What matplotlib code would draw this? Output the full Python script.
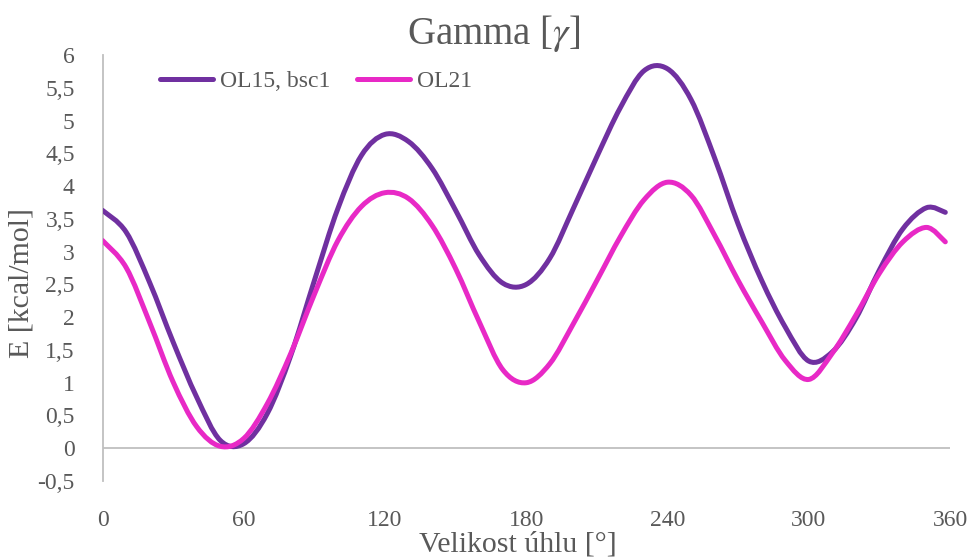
import matplotlib
matplotlib.use("Agg")
import matplotlib.pyplot as plt
from matplotlib.path import Path
from matplotlib.patches import PathPatch
from matplotlib.lines import Line2D
from matplotlib.ticker import FuncFormatter, MultipleLocator

# Data (angle in degrees, energy in kcal/mol)
angles = [0, 10, 20, 30, 40, 50, 60, 70, 80, 90, 100, 110, 120, 130, 140, 150,
          160, 170, 180, 190, 200, 210, 220, 230, 240, 250, 260, 270, 280, 290,
          300, 310, 320, 330, 340, 350, 358]
ol15_bsc1 = [3.63, 3.30, 2.53, 1.62, 0.78, 0.12, 0.07, 0.53, 1.42, 2.56, 3.66,
             4.47, 4.79, 4.68, 4.27, 3.63, 2.95, 2.52, 2.50, 2.90, 3.66, 4.45,
             5.20, 5.76, 5.79, 5.32, 4.43, 3.42, 2.56, 1.85, 1.33, 1.47, 1.98,
             2.72, 3.35, 3.67, 3.60]
ol21 = [3.17, 2.76, 1.92, 1.01, 0.33, 0.03, 0.15, 0.68, 1.45, 2.35, 3.17, 3.69,
        3.90, 3.81, 3.40, 2.74, 1.93, 1.20, 1.00, 1.29, 1.90, 2.56, 3.23, 3.79,
        4.06, 3.86, 3.25, 2.56, 1.93, 1.34, 1.05, 1.45, 2.03, 2.67, 3.15, 3.37,
        3.15]

series_names = ["OL15, bsc1", "OL21"]
series_colors = ["#7030A0", "#E829C6"]
text_color = "#595959"
axis_color = "#BFBFBF"

plt.rcParams["font.family"] = ["Liberation Serif", "DejaVu Serif"]
plt.rcParams["mathtext.fontset"] = "stix"


def smooth_path(xs, ys):
    # Excel-like "smoothed line": Catmull-Rom segments as cubic Beziers
    pts = list(zip(xs, ys))
    n = len(pts)
    verts = [pts[0]]
    codes = [Path.MOVETO]
    for i in range(n - 1):
        p0 = pts[i - 1] if i > 0 else pts[i]
        p1 = pts[i]
        p2 = pts[i + 1]
        p3 = pts[i + 2] if i + 2 < n else pts[i + 1]
        c1 = (p1[0] + (p2[0] - p0[0]) / 6, p1[1] + (p2[1] - p0[1]) / 6)
        c2 = (p2[0] - (p3[0] - p1[0]) / 6, p2[1] - (p3[1] - p1[1]) / 6)
        verts += [c1, c2, p2]
        codes += [Path.CURVE4] * 3
    return Path(verts, codes)


fig = plt.figure(figsize=(9.7, 5.59), dpi=100)
ax = fig.add_axes([0.1057, 0.1395, 0.8737, 0.762])

handles = []
for vals, name, col in zip([ol15_bsc1, ol21], series_names, series_colors):
    patch = PathPatch(smooth_path(angles, vals), fill=False, edgecolor=col,
                      linewidth=3.6, capstyle="round", joinstyle="round", zorder=3)
    ax.add_patch(patch)
    handles.append(Line2D([], [], color=col, linewidth=3.6, solid_capstyle="round", label=name))

ax.set_xlim(0, 360)
ax.set_ylim(-0.5, 6)
ax.xaxis.set_major_locator(MultipleLocator(60))
ax.yaxis.set_major_locator(MultipleLocator(0.5))
ax.yaxis.set_major_formatter(FuncFormatter(lambda v, p: f"{v:g}".replace(".", ",")))

for side in ["top", "right", "bottom"]:
    ax.spines[side].set_visible(False)
ax.spines["left"].set_color(axis_color)
ax.spines["left"].set_linewidth(1.3)
ax.axhline(0, color=axis_color, linewidth=1.3, zorder=1)

ax.tick_params(axis="both", length=0, labelsize=17, colors=text_color)
ax.tick_params(axis="x", pad=21)
ax.tick_params(axis="y", pad=20)

ax.set_xlabel("Velikost úhlu [°]", fontsize=21.5, color=text_color)
ax.xaxis.set_label_coords(0.49, -0.118)
ax.set_ylabel("E [kcal/mol]", fontsize=21.5, color=text_color)
ax.yaxis.set_label_coords(-0.08, 0.465)

fig.text(494 / 970, 1 - 33 / 559, "Gamma [$\\gamma$]", fontsize=28,
         color=text_color, ha="center", va="center")

ax.legend(handles=handles, loc="center left", bbox_to_anchor=(0.0678, 0.939),
          ncol=2, frameon=False, fontsize=17, handlelength=2.25, handletextpad=0.3,
          columnspacing=1.1, borderpad=0, borderaxespad=0, labelcolor=text_color)

fig.savefig("out.png", dpi=100)
